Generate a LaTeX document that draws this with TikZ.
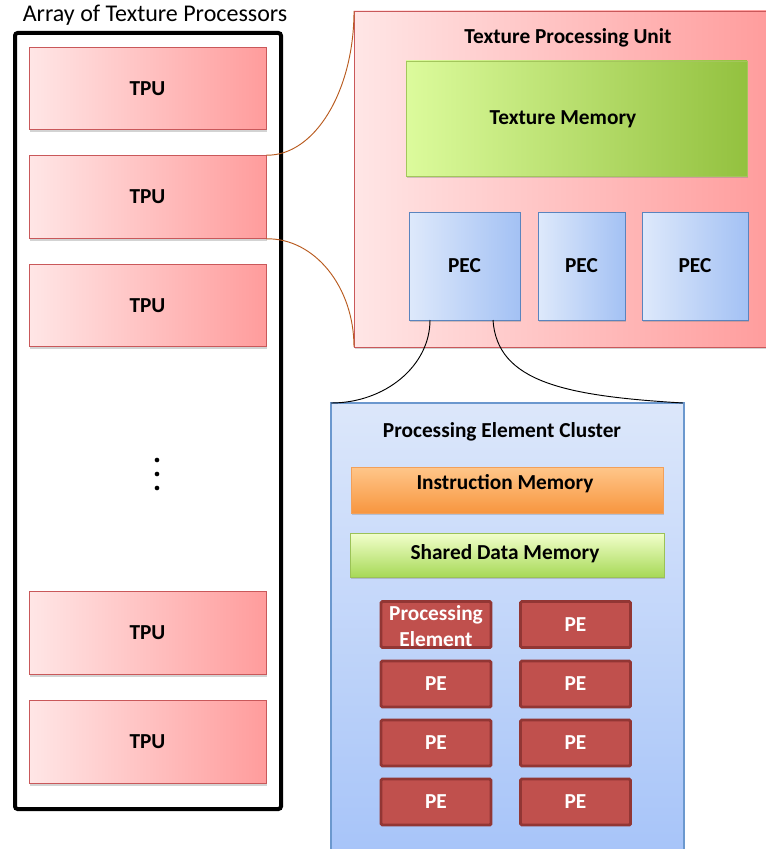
\documentclass[tikz,border=0pt]{standalone}
\usepackage{fontspec}
\setmainfont{Carlito}
\usetikzlibrary{fit,shadows}
\definecolor{tpuL}{HTML}{FFE6E6}
\definecolor{tpuR}{HTML}{FF9C9C}
\definecolor{tpuB}{HTML}{C9585A}
\definecolor{tmL}{HTML}{DCFB9C}
\definecolor{tmR}{HTML}{93C13F}
\definecolor{tmB}{HTML}{A3C65C}
\definecolor{pecL}{HTML}{DEE9FB}
\definecolor{pecR}{HTML}{A3C1F4}
\definecolor{pecB}{HTML}{5A84BE}
\definecolor{clT}{HTML}{DCE7FA}
\definecolor{clB}{HTML}{A7C4F9}
\definecolor{clD}{HTML}{6B98CE}
\definecolor{imT}{HTML}{FFC68A}
\definecolor{imB}{HTML}{F7963F}
\definecolor{imD}{HTML}{F2A05A}
\definecolor{sdT}{HTML}{F2FFCC}
\definecolor{sdB}{HTML}{A7D957}
\definecolor{sdD}{HTML}{9BC257}
\definecolor{peF}{HTML}{C0504D}
\definecolor{peD}{HTML}{923634}
\definecolor{link}{HTML}{B85A1E}
\tikzset{
  bfont/.style={font=\bfseries\fontsize{16}{19}\selectfont},
  box/.style={rectangle, inner sep=0pt, bfont},
  shad/.style={drop shadow={opacity=0.35, shadow xshift=1pt, shadow yshift=-1.8pt}},
  tpubox/.style={box, shad, draw=tpuB, line width=0.7pt, left color=tpuL, right color=tpuR},
  texmem/.style={box, shad, draw=tmB, line width=0.7pt, left color=tmL, right color=tmR},
  pecbox/.style={box, shad, draw=pecB, line width=0.7pt, left color=pecL, right color=pecR},
  clbox/.style={box, shad, draw=clD, line width=0.8pt, top color=clT, bottom color=clB},
  imbox/.style={box, shad, draw=imD, line width=0.6pt, top color=imT, bottom color=imB},
  sdbox/.style={box, shad, draw=sdD, line width=0.6pt, top color=sdT, bottom color=sdB},
  pebox/.style={box, draw=peD, fill=peF, line width=2.2pt, rounded corners=1pt, text=white,
    minimum width=82.5pt, minimum height=34.5pt},
  tpusz/.style={minimum width=177.75pt, minimum height=62pt},
  ttl/.style={bfont, inner sep=0pt},
  zoomlink/.style={draw=link, line width=0.7pt},
  blacklink/.style={draw=black, line width=0.7pt},
  dot/.style={circle, fill=black, inner sep=0pt, minimum size=3.5pt}
}
\begin{document}
\begin{tikzpicture}[x=0.75pt,y=-0.75pt]
\useasboundingbox (0,0) rectangle (766,849);
% title
\node[inner sep=0pt, font=\fontsize{18}{21}\selectfont] (title) at (155,15) {Array of Texture Processors};
% outer black box
\node[rectangle, draw=black, line width=3pt, rounded corners=2pt, inner sep=0pt, fit={(15,33)(281,809)}] (outer) {};
% TPUs
\node[tpubox, tpusz] (t1) at (147.5,88.5) {TPU};
\node[tpubox, tpusz] (t2) at (147.5,197) {TPU};
\node[tpubox, tpusz] (t3) at (147.5,305.5) {TPU};
\node[tpubox, tpusz] (t4) at (147.5,633) {TPU};
\node[tpubox, tpusz] (t5) at (147.5,742) {TPU};
\node[dot] (d1) at (157,460) {};
\node[dot] (d2) at (157,474) {};
\node[dot] (d3) at (157,488) {};
% Texture processing unit
\node[tpubox, fit={(354,11)(772,347)}] (tpu) {};
\node[ttl] (tputitle) at (568,38) {Texture Processing Unit};
\node[texmem, fit={(406,61)(747,176)}] (tm) {};
\node[ttl] (tmtext) at (563,119) {Texture Memory};
\node[pecbox, minimum width=83.25pt, minimum height=81pt] (p1) at (464.5,266) {PEC};
\node[pecbox, minimum width=65.25pt, minimum height=81pt] (p2) at (581.5,266) {PEC};
\node[pecbox, minimum width=79.5pt, minimum height=81pt] (p3) at (695,266) {PEC};
% zoom links TPU -> unit
\coordinate (ua) at (354,11);
\coordinate (ub) at (354,347);
\draw[zoomlink] (t2.north east) .. controls (314.6,156) and (354,91) .. (ua);
\draw[zoomlink] (t2.south east) .. controls (314.6,238) and (354,287) .. (ub);
% cluster
\node[clbox, fit={(331,403)(684,853)}] (cl) {};
\node[ttl] (cltitle) at (502,432) {Processing Element Cluster};
\node[imbox, fit={(351,467)(663,513)}] (im) {};
\node[ttl] (imtext) at (505,484) {Instruction Memory};
\node[sdbox, fit={(350,533)(664,577)}] (sd) {};
\node[ttl] (sdtext) at (505,554) {Shared Data Memory};
% PEs
\node[pebox] (pe11) at (436,624.5) {};
\node[ttl, text=white, align=center] (pe11t) at (436,626) {Processing\\Element};
\node[pebox] (pe12) at (575.5,624.5) {PE};
\node[pebox] (pe21) at (436,684) {PE};
\node[pebox] (pe22) at (575.5,684) {PE};
\node[pebox] (pe31) at (436,743) {PE};
\node[pebox] (pe32) at (575.5,743) {PE};
\node[pebox] (pe41) at (436,802) {PE};
\node[pebox] (pe42) at (575.5,802) {PE};
% links PEC -> cluster
\coordinate (pa) at (430,320);
\coordinate (pb) at (493,320);
\coordinate (ca) at (331,403);
\coordinate (cb) at (683,403);
\draw[blacklink] (pa) .. controls (430,366) and (385,403) .. (ca);
\draw[blacklink] (pb) .. controls (497,382) and (565,396) .. (cb);
\end{tikzpicture}
\end{document}
